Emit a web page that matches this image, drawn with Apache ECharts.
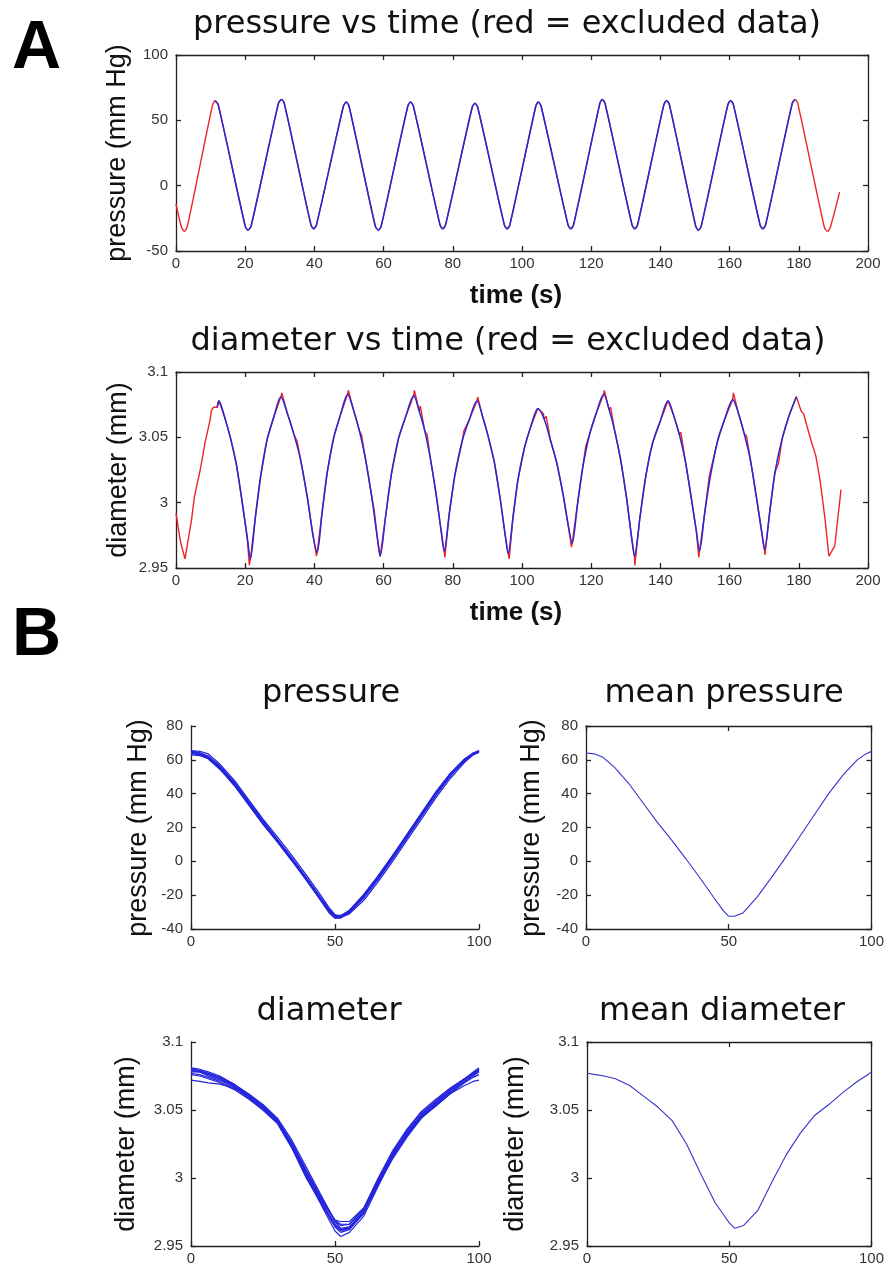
<!DOCTYPE html>
<html><head><meta charset="utf-8">
<script src="https://cdn.jsdelivr.net/npm/echarts/dist/echarts.min.js"></script>
<style>html,body{margin:0;padding:0;background:#fff}#c{width:887px;height:1266px}</style>
</head><body><div id="c"></div>
<script>
// ---------------- DATA ----------------
// Panel A: pressure vs time [t (s), pressure (mm Hg)]
const pressureTS = [
 [0,-14],[1.5,-31],[2.4,-35],[3.3,-31],[10.5,61],[11.3,65],[12.2,62],
 [20,-31],[20.8,-34],[21.7,-31],[29.6,63],[30.5,66],[31.3,63],
 [39,-30],[39.8,-33],[40.6,-30],[48.4,61],[49.2,64],[50,61],
 [57.6,-31],[58.5,-34],[59.3,-31],[67,61],[67.8,64],[68.6,61],
 [76.3,-30],[77.1,-33],[77.9,-30],[85.6,60],[86.4,63],[87.2,60],
 [94.9,-30],[95.7,-33],[96.5,-30],[104,61],[104.7,64],[105.5,61],
 [113.3,-30],[114.1,-33],[114.9,-30],[122.5,63],[123.2,66],[124,63],
 [131.8,-30],[132.6,-33],[133.4,-30],[141,62],[141.8,65],[142.6,62],
 [150.2,-31],[151,-34],[151.8,-31],[159.5,62],[160.3,65],[161.1,62],
 [168.8,-30],[169.6,-33],[170.4,-30],[178.1,63],[178.9,66],[179.7,63],
 [187.4,-32],[188.3,-35],[189.1,-32],[191.8,-5]
];
// Panel A: diameter vs time [t (s), diameter (mm)]
const diameterTS = [
 [0,2.992],[1.3,2.970],[2.6,2.957],[4.5,2.987],[6,3.013],[7,3.025],[8.4,3.046],[9.9,3.064],[10.8,3.073],[11.9,3.073],[12.4,3.078],
 [14.0,3.066],[15.7,3.050],[17.4,3.030],[19.1,3.001],[20.6,2.973],[21.5,2.957],
 [22.9,2.988],[24.4,3.019],[26.3,3.048],[28.2,3.065],[30.3,3.081],
 [32.1,3.069],[34.0,3.053],[36.0,3.033],[37.9,3.005],[39.6,2.975],[40.8,2.962],
 [42.2,2.992],[43.7,3.023],[45.6,3.050],[47.5,3.067],[49.6,3.083],
 [51.3,3.071],[53.0,3.055],[54.8,3.033],[56.6,3.004],[58.1,2.975],[59.0,2.959],
 [60.6,2.990],[62.2,3.021],[64.3,3.049],[66.4,3.066],[68.7,3.082],
 [70.3,3.070],[71.9,3.055],[73.5,3.034],[75.2,3.006],[76.6,2.979],[77.5,2.963],
 [79.0,2.992],[80.6,3.021],[82.7,3.047],[84.7,3.063],[87.0,3.078],
 [88.6,3.066],[90.2,3.051],[92.0,3.031],[93.7,3.003],[95.1,2.976],[96.0,2.961],
 [97.4,2.989],[98.8,3.017],[100.7,3.042],[102.5,3.058],[104.6,3.072],
 [106.4,3.064],[108.2,3.048],[110.0,3.031],[111.9,3.006],[113.4,2.982],[114.5,2.969],
 [116.0,2.998],[117.5,3.026],[119.5,3.052],[121.4,3.068],[123.6,3.083],
 [125.2,3.071],[126.8,3.055],[128.5,3.033],[130.2,3.004],[131.6,2.975],[132.5,2.959],
 [134.1,2.989],[135.7,3.019],[137.8,3.046],[139.9,3.062],[142.2,3.078],
 [143.8,3.067],[145.5,3.052],[147.2,3.032],[148.9,3.004],[150.4,2.978],[151.3,2.963],
 [152.8,2.992],[154.5,3.021],[156.6,3.048],[158.6,3.064],[160.9,3.079],
 [162.6,3.068],[164.2,3.053],[166.0,3.033],[167.7,3.005],[169.2,2.979],[170.1,2.964],
 [171.6,2.993],[173.1,3.023],[175.2,3.049],[177.1,3.066],[179.3,3.081],
 [180.7,3.070],[182.2,3.060],[183.7,3.046],[186.1,3.018],[187.6,2.987],[188.7,2.959],[190.4,2.967],[192.2,3.010]
];
// raw-signal jitter visible only in the red (full) diameter trace
const diameterJitter = [
 [5.3,3.004],[10.2,3.070],[21.2,2.952],[30.6,3.084],[35.0,3.047],[40.6,2.959],[49.8,3.086],[53.6,3.052],
 [57.3,2.994],[68.9,3.086],[70.6,3.074],[72.6,3.052],[77.7,2.958],[83.2,3.055],[87.2,3.081],[96.3,2.957],
 [106.2,3.068],[107.0,3.066],[114.3,2.966],[118.4,3.043],[123.8,3.086],[125.6,3.073],[132.6,2.952],
 [136.9,3.037],[145.9,3.054],[151.1,2.958],[154.1,3.020],[161.1,3.084],[164.9,3.051],[170.2,2.960],
 [174.1,3.030],[181.4,3.068],[184.9,3.036]
];
// included (blue) time window, s
const includedWindow = [11, 179.3];

// Panel B: one cycle, % of cycle
const cycleX = [0,3,6,10,15,20,25,30,35,40,45,48,50,52,55,60,65,70,75,80,85,90,95,98,100];
const pressCycle1 = [65,64,62,56,46.5,35,23.5,12.5,1.5,-10,-22.5,-30,-33,-33,-30,-21,-10,2,14.5,27,39.5,51,60,64,65];
const pressCycle2 = [64,63,60.5,54.5,45,33.5,22,11.5,0.5,-11,-23,-30,-33.5,-33,-29,-20,-9,3,15.5,28,40.5,51.5,60.5,63.5,65];
const pressCycle3 = [65.5,65,63.5,57.5,48,36.5,25,14.5,3.5,-8,-20,-27.5,-31.5,-33,-31,-23,-12,0,12.5,25,37.5,49,58.5,63,64.5];
const pressCycle4 = [64,63.5,61,55,45.5,34,22.5,12,1,-10.5,-22,-29,-32,-32,-29,-20,-9,3,15.5,28,40.5,51.5,60,63.5,65];
const pressCycle5 = [65,64,62,56.5,47,35.5,24,13,2,-9.5,-21.5,-28.5,-32,-32.5,-30,-21.5,-10.5,1.5,14,26.5,39,50.5,59.5,63.5,65.5];
const pressCycle6 = [63,62.5,61,55,45,33.5,22,11.5,0.5,-11,-23,-30.5,-33.5,-33.5,-30.5,-21,-10,2,14.5,27,39.5,50.5,59.5,63,64.5];
const pressCycle7 = [65,64,62,56,46,34.5,23,12.5,1.5,-10,-22,-29.5,-33,-33,-29.5,-20.5,-9.5,2.5,15,27.5,40,51,60,63.5,65];
const pressCycle8 = [64.5,63.5,61.5,55.5,46,34.5,23,12.5,1.5,-10,-22,-29,-32.5,-32.5,-29.5,-20.5,-9.5,2.5,15,27.5,40,51,60,63.5,65];
const pressCycle9 = [65,64,61.5,55,45.5,34,22.5,12,1,-10.5,-22.5,-29.5,-33,-33,-29,-19.5,-8.5,3.5,16,28.5,41,52,60.5,64,65.5];
const meanPressure = [64,63.5,61.5,55.5,46,34.5,23,12.5,1.5,-10,-22,-29,-32.5,-32.5,-30.5,-21,-9.5,2.5,15,27.5,40,51,60,63.5,65];

const diamCycle1 = [3.080,3.079,3.077,3.074,3.069,3.062,3.054,3.044,3.028,3.008,2.988,2.976,2.968,2.963,2.964,2.975,2.996,3.017,3.034,3.047,3.056,3.065,3.073,3.077,3.080];
const diamCycle2 = [3.078,3.078,3.076,3.073,3.067,3.059,3.050,3.040,3.022,3.000,2.982,2.971,2.964,2.960,2.962,2.974,2.998,3.019,3.035,3.048,3.057,3.066,3.073,3.076,3.079];
const diamCycle3 = [3.072,3.071,3.070,3.069,3.066,3.061,3.053,3.043,3.026,3.005,2.986,2.975,2.969,2.968,2.968,2.978,2.999,3.018,3.033,3.045,3.053,3.062,3.068,3.071,3.072];
const diamCycle4 = [3.081,3.080,3.078,3.075,3.069,3.061,3.052,3.041,3.023,3.001,2.981,2.969,2.961,2.957,2.960,2.972,2.994,3.015,3.032,3.046,3.056,3.065,3.073,3.078,3.081];
const diamCycle5 = [3.076,3.075,3.073,3.070,3.065,3.058,3.050,3.041,3.025,3.004,2.985,2.975,2.968,2.965,2.966,2.977,2.998,3.016,3.031,3.044,3.053,3.062,3.070,3.074,3.076];
const diamCycle6 = [3.079,3.078,3.076,3.073,3.068,3.061,3.053,3.043,3.025,3.003,2.983,2.972,2.965,2.961,2.963,2.975,2.995,3.014,3.030,3.044,3.054,3.063,3.071,3.076,3.079];
const diamCycle7 = [3.080,3.079,3.077,3.074,3.068,3.060,3.052,3.042,3.024,3.002,2.984,2.973,2.966,2.962,2.964,2.976,2.997,3.017,3.033,3.046,3.055,3.064,3.072,3.077,3.080];
const diamCycle8 = [3.077,3.076,3.074,3.071,3.066,3.059,3.051,3.041,3.023,3.002,2.983,2.972,2.966,2.962,2.963,2.974,2.996,3.016,3.032,3.045,3.054,3.063,3.071,3.075,3.078];
const diamCycle9 = [3.079,3.078,3.075,3.072,3.067,3.060,3.052,3.042,3.026,3.006,2.987,2.976,2.969,2.966,2.966,2.978,3.000,3.020,3.036,3.049,3.058,3.066,3.073,3.077,3.079];
const meanDiameter = [3.077,3.076,3.075,3.073,3.068,3.060,3.052,3.042,3.025,3.003,2.982,2.973,2.967,2.963,2.965,2.976,2.997,3.017,3.033,3.046,3.054,3.063,3.071,3.075,3.078];

// ---------------- CHART ----------------
const RED = '#ee2424', BLUE = '#2525dc', BLUE2 = '#3434cc';
const tickFont = '"Liberation Sans", Arial, sans-serif';
const fmt = v => String(+(+v).toFixed(2));

const grids = [
  {left:176, top:55,   width:692, height:196},  // A1
  {left:176, top:372,  width:692, height:196},  // A2
  {left:191, top:726,  width:288, height:203},  // B1
  {left:586, top:726,  width:287, height:203},  // B2
  {left:191, top:1042, width:288, height:205},  // B3
  {left:587, top:1042, width:286, height:205}   // B4
];
const xRanges = [[0,200,20],[0,200,20],[0,100,50],[0,100,50],[0,100,50],[0,100,50]];
const yRanges = [[-50,100,50],[2.95,3.1,0.05],[-40,80,20],[-40,80,20],[2.95,3.1,0.05],[2.95,3.1,0.05]];
const boxed = [true,true,false,true,false,true];

const xAxes = [], yAxes = [], xMain = [], yMain = [];
const lineStyle = {color:'#222', width:1.3};
const labelStyle = {color:'#333', fontSize:15, fontFamily:tickFont, formatter:fmt};
grids.forEach((g, i) => {
  const [x0,x1,xi] = xRanges[i], [y0,y1,yi] = yRanges[i];
  xMain.push(xAxes.length);
  xAxes.push({type:'value', gridIndex:i, min:x0, max:x1, interval:xi, position:'bottom',
    axisLine:{show:true,onZero:false,lineStyle},
    axisTick:{show:true,inside:true,length:5,lineStyle},
    axisLabel:Object.assign({show:true,margin:5}, labelStyle),
    splitLine:{show:false}});
  yMain.push(yAxes.length);
  yAxes.push({type:'value', gridIndex:i, min:y0, max:y1, interval:yi, position:'left',
    axisLine:{show:true,onZero:false,lineStyle},
    axisTick:{show:true,inside:true,length:5,lineStyle},
    axisLabel:Object.assign({show:true,margin:8}, labelStyle),
    splitLine:{show:false}});
  if (boxed[i]) {
    xAxes.push({type:'value', gridIndex:i, min:x0, max:x1, interval:xi, position:'top',
      axisLine:{show:true,onZero:false,lineStyle},
      axisTick:{show:true,inside:true,length:5,lineStyle},
      axisLabel:{show:false}, splitLine:{show:false}});
    yAxes.push({type:'value', gridIndex:i, min:y0, max:y1, interval:yi, position:'right',
      axisLine:{show:true,onZero:false,lineStyle},
      axisTick:{show:true,inside:true,length:5,lineStyle},
      axisLabel:{show:false}, splitLine:{show:false}});
  }
});

const series = [];
function addLine(g, data, color, width, z, smooth) {
  series.push({type:'line', xAxisIndex:xMain[g], yAxisIndex:yMain[g], data,
    showSymbol:false, symbol:'none', silent:true, animation:false, clip:true, z:z||2,
    smooth: smooth || false,
    lineStyle:{color, width}});
}
const inWin = p => p[0] >= includedWindow[0] && p[0] <= includedWindow[1];
// A1
addLine(0, pressureTS, RED, 1.4, 2, 0.25);
addLine(0, pressureTS.filter(inWin), BLUE, 1.5, 3, 0.25);
// A2
const diamRaw = diameterTS.concat(diameterJitter).sort((a,b)=>a[0]-b[0]);
addLine(1, diamRaw, RED, 1.4, 2);
addLine(1, diameterTS.filter(inWin), BLUE, 1.5, 3, 0.3);
// B
const zipX = ys => cycleX.map((x,k)=>[x, ys[k]]);
[pressCycle1,pressCycle2,pressCycle3,pressCycle4,pressCycle5,pressCycle6,pressCycle7,pressCycle8,pressCycle9]
  .forEach(c => addLine(2, zipX(c), BLUE, 1.3, 2));
addLine(3, zipX(meanPressure), BLUE2, 1.1, 2);
[diamCycle1,diamCycle2,diamCycle3,diamCycle4,diamCycle5,diamCycle6,diamCycle7,diamCycle8,diamCycle9]
  .forEach(c => addLine(4, zipX(c), BLUE, 1.2, 2));
addLine(5, zipX(meanDiameter), BLUE2, 1.1, 2);

// texts
const titleFont = '32px "DejaVu Sans", sans-serif';
const ylabFont = '27px "Liberation Sans", Arial, sans-serif';
const txt = (text, x, y, font, rot) => ({type:'text', x, y, rotation: rot || 0, silent:true,
  style:{text, font, fill:'#111', textAlign:'center', textVerticalAlign:'middle'}});
const graphics = [
  {type:'text', x:12, y:49, silent:true, style:{text:'A', font:'bold 68px "Liberation Sans", Arial, sans-serif', fill:'#000', textAlign:'left', textVerticalAlign:'middle'}},
  {type:'text', x:12, y:636, silent:true, style:{text:'B', font:'bold 68px "Liberation Sans", Arial, sans-serif', fill:'#000', textAlign:'left', textVerticalAlign:'middle'}},
  txt('pressure vs time (red = excluded data)', 507, 25, titleFont),
  txt('diameter vs time (red = excluded data)', 508, 342, titleFont),
  txt('pressure', 331, 694, titleFont),
  txt('mean pressure', 724, 694, titleFont),
  txt('diameter', 329, 1012, titleFont),
  txt('mean diameter', 722, 1012, titleFont),
  txt('time (s)', 516, 296, 'bold 26px "Liberation Sans", Arial, sans-serif'),
  txt('time (s)', 516, 613, 'bold 26px "Liberation Sans", Arial, sans-serif'),
  txt('pressure (mm Hg)', 118, 153, ylabFont, Math.PI/2),
  txt('diameter (mm)', 119, 470, ylabFont, Math.PI/2),
  txt('pressure (mm Hg)', 139, 828, ylabFont, Math.PI/2),
  txt('pressure (mm Hg)', 532, 828, ylabFont, Math.PI/2),
  txt('diameter (mm)', 127, 1144, ylabFont, Math.PI/2),
  txt('diameter (mm)', 516, 1144, ylabFont, Math.PI/2)
];

const chart = echarts.init(document.getElementById('c'), null, {renderer:'canvas'});
chart.setOption({
  animation:false, backgroundColor:'#fff',
  grid: grids, xAxis: xAxes, yAxis: yAxes, series, graphic: graphics
});
</script></body></html>
